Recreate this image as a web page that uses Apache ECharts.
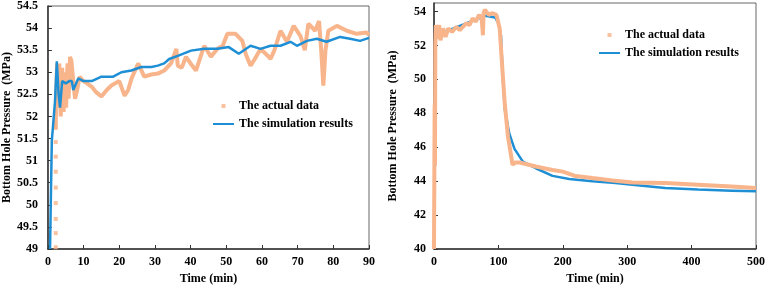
<!DOCTYPE html>
<html>
<head>
<meta charset="utf-8">
<script src="https://cdn.jsdelivr.net/npm/echarts@6/dist/echarts.min.js"></script>
<style>
  html, body { margin: 0; padding: 0; background: #fff; }
  #main { width: 768px; height: 290px; }
</style>
</head>
<body>
<div id="main"></div>
<script>
var myChart = echarts.init(document.getElementById('main'));

// left panel: 0-90 min
var actualStartLeft = [[2.2, 49.04], [2.2, 49.36], [2.2, 49.68], [2.2, 50.04], [2.2, 50.39], [2.2, 50.75], [2.2, 51.09], [2.2, 51.42]];
var actualLeft = [
    [2.2, 51.7], [2.3, 52.5], [2.6, 53.2], [2.9, 52.2], [3.2, 53.2], [3.6, 52.0], [4.0, 53.1], [4.4, 52.1],
    [4.8, 53.0], [5.1, 52.2], [5.5, 53.2], [5.8, 52.4], [6.2, 53.35], [6.6, 53.25], [7.0, 52.9], [7.6, 52.4],
    [8.2, 52.6], [8.9, 52.9], [9.9, 52.8], [11, 52.75], [12.3, 52.67], [13.5, 52.55], [15, 52.45], [16.5, 52.6],
    [17.8, 52.7], [20, 52.8], [21.5, 52.47], [22.5, 52.6], [23.4, 52.85], [25.3, 53.2], [27, 52.9], [29, 52.95],
    [30.8, 52.97], [32.6, 53.04], [34.5, 53.2], [36, 53.53], [36.4, 53.15], [37.5, 53.1], [38.7, 53.35], [40, 53.2],
    [41.5, 53.04], [43.8, 53.6], [45.7, 53.35], [47.5, 53.53], [49, 53.6], [50.3, 53.87], [52.6, 53.87], [54.5, 53.71],
    [55.5, 53.4], [56.8, 53.15], [58, 53.3], [59.6, 53.53], [61.9, 53.35], [62.4, 53.3], [63.5, 53.5], [65.2, 53.94],
    [67, 53.69], [68.9, 54.05], [70.8, 53.82], [72, 53.5], [73, 54.1], [74.9, 53.94], [76, 54.16], [76.6, 53.5],
    [77.2, 52.7], [77.8, 53.5], [78.6, 53.94], [81, 54.05], [83.8, 53.94], [86.5, 53.87], [89.3, 53.9], [90, 53.85]
];
var simLeft = [
    [0.6, 49], [0.9, 50.5], [1.1, 51.45], [2.0, 52.35], [2.5, 53.25], [3.0, 52.5], [3.4, 52.2], [4.0, 52.8],
    [5, 52.75], [6, 52.8], [6.7, 52.8], [7.1, 52.6], [8.5, 52.86], [10, 52.8], [12.3, 52.8], [15, 52.9],
    [18.3, 52.9], [20.6, 53.0], [23.4, 53.04], [26.2, 53.12], [29, 53.12], [30.8, 53.15], [32.6, 53.2], [34, 53.3],
    [36.4, 53.37], [40.1, 53.49], [43.8, 53.53], [47.5, 53.53], [50.7, 53.57], [53.5, 53.42], [56.8, 53.6], [59.6, 53.53],
    [62.4, 53.6], [65.2, 53.6], [68, 53.69], [69.8, 53.6], [72.6, 53.71], [75.4, 53.76], [78.1, 53.69], [81.9, 53.8],
    [84.7, 53.76], [87.5, 53.71], [90, 53.78]
];

// right panel: 0-500 min
var actualRight = [
    [0, 40], [0.5, 44], [1, 48.5], [1.5, 44.9], [2, 52], [3, 53.2], [5, 52.4], [8, 53.2], [10, 52.3], [14, 53],
    [18, 52.5], [22, 53], [28, 52.8], [35, 53.1], [40, 52.9], [50, 53.3], [55, 53.2], [60, 53.6], [65, 53.4],
    [70, 53.8], [74, 53.6], [76, 52.6], [77, 53.9], [79, 54.1], [85, 53.8], [90, 53.9], [97, 53.8], [102, 53],
    [106, 50.7], [110, 48.5], [115, 46.6], [122, 44.96], [126, 45.1], [133, 45.1], [158, 44.86], [184, 44.66],
    [200, 44.56], [220, 44.3], [246, 44.18], [277, 44.04], [308, 43.92], [359, 43.89], [410, 43.79], [462, 43.69],
    [500, 43.6]
];
var simRight = [
    [0, 40], [1, 46], [2, 52.5], [5, 52.8], [15, 52.8], [30, 53.0], [50, 53.3], [70, 53.6], [80, 53.75], [95, 53.65],
    [100, 53.3], [104, 52.6], [107, 50], [110, 48.2], [117, 46.8], [125, 45.9], [138, 45.15], [158, 44.76],
    [184, 44.31], [210, 44.12], [246, 44.0], [282, 43.89], [308, 43.79], [359, 43.6], [410, 43.5], [462, 43.44],
    [500, 43.4]
];

var seriesNames = ['The actual data', 'The simulation results'];
var orange = '#F8B48A';
var blue = '#1E8FD5';
var font = 'Liberation Serif';

// legend icons: zero-length moves pin the box to 21x4 so the marker stays small
var markerIcon = 'path://M0,0L0,0M21,4L21,4M8.5,0h4v4h-4z';
var lineIcon = 'path://M0,0L0,0M21,4L21,4M0,1h21v2h-21z';

function xAxisOf(idx, max, interval) {
    return {
        gridIndex: idx, type: 'value', min: 0, max: max, interval: interval,
        name: 'Time (min)', nameLocation: 'middle', nameGap: 24,
        nameTextStyle: { fontFamily: font, fontWeight: 'bold', fontSize: 12, color: '#000' },
        axisLine: { lineStyle: { color: '#333', width: 1.5 } },
        axisTick: { inside: true, length: 4, lineStyle: { color: '#333' } },
        axisLabel: { fontFamily: font, fontWeight: 'bold', fontSize: 12, color: '#000', margin: 7 },
        splitLine: { show: false }
    };
}
function yAxisOf(idx, min, max, interval, gap, labelMargin) {
    return {
        gridIndex: idx, type: 'value', min: min, max: max, interval: interval,
        name: 'Bottom Hole Pressure  (MPa)', nameLocation: 'middle', nameGap: gap,
        nameTextStyle: { fontFamily: font, fontWeight: 'bold', fontSize: 12, color: '#000' },
        axisLine: { show: true, lineStyle: { color: '#333', width: 1.5 } },
        axisTick: { show: true, inside: true, length: 4, lineStyle: { color: '#333' } },
        axisLabel: { fontFamily: font, fontWeight: 'bold', fontSize: 12, color: '#000', margin: labelMargin, showMaxLabel: max % interval === 0 },
        splitLine: { show: false }
    };
}
function legendOf(left, top) {
    return {
        data: [
            { name: seriesNames[0], icon: markerIcon, itemStyle: { color: orange } },
            { name: seriesNames[1], icon: lineIcon, itemStyle: { color: blue } }
        ],
        orient: 'vertical', left: left, top: top,
        itemWidth: 21, itemHeight: 4, itemGap: 6,
        textStyle: { fontFamily: font, fontWeight: 'bold', fontSize: 12, color: '#000' }
    };
}

var option = {
    animation: false,
    grid: [
        { left: 46, right: 399, top: 5, bottom: 39, show: true, borderColor: '#666', borderWidth: 1 },
        { left: 434, right: 10, top: 3, bottom: 40, show: true, borderColor: '#666', borderWidth: 1 }
    ],
    legend: [legendOf(208, 95), legendOf(594, 24)],
    xAxis: [xAxisOf(0, 90, 10), xAxisOf(1, 500, 100)],
    yAxis: [yAxisOf(0, 49, 54.5, 0.5, 31, 10), yAxisOf(1, 40, 54.5, 2, 35, 8)],
    series: [
        {
            name: seriesNames[0], type: 'scatter', xAxisIndex: 0, yAxisIndex: 0,
            data: actualStartLeft, symbol: 'rect', symbolSize: 4, itemStyle: { color: orange }
        },
        {
            name: seriesNames[0], type: 'line', xAxisIndex: 0, yAxisIndex: 0, data: actualLeft,
            symbol: 'none', lineStyle: { color: orange, width: 4 }, itemStyle: { color: orange }
        },
        {
            name: seriesNames[1], type: 'line', xAxisIndex: 0, yAxisIndex: 0, data: simLeft,
            symbol: 'none', lineStyle: { color: blue, width: 2.5 }, itemStyle: { color: blue }
        },
        {
            name: seriesNames[1], type: 'line', xAxisIndex: 1, yAxisIndex: 1, data: simRight,
            symbol: 'none', lineStyle: { color: blue, width: 2.5 }, itemStyle: { color: blue }
        },
        {
            name: seriesNames[0], type: 'line', xAxisIndex: 1, yAxisIndex: 1, data: actualRight,
            symbol: 'none', lineStyle: { color: orange, width: 4 }, itemStyle: { color: orange }
        }
    ]
};

myChart.setOption(option);
</script>
</body>
</html>
